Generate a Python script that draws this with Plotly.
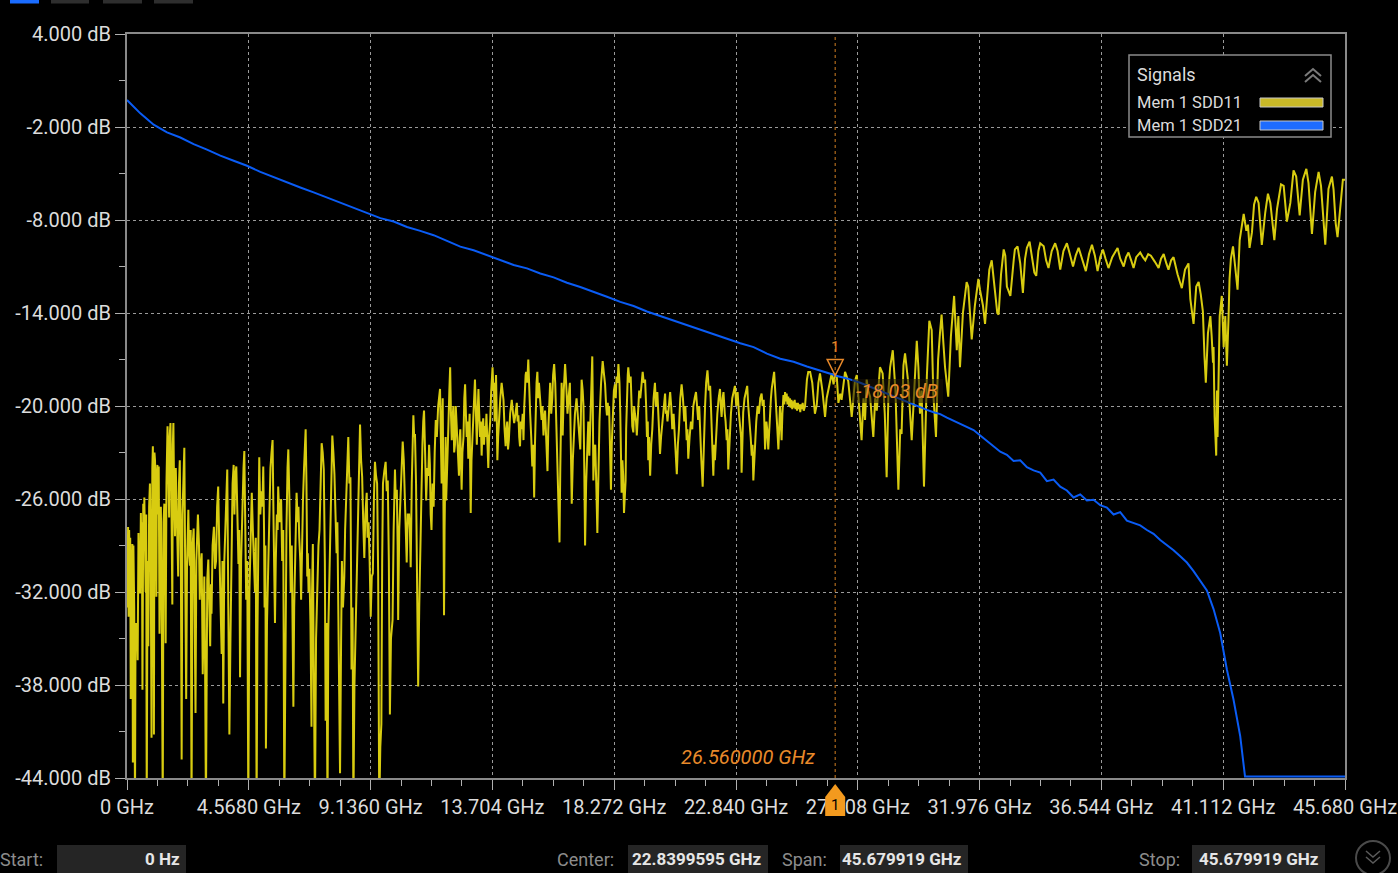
import plotly.graph_objects as go

# ---------------- data ----------------
# SDD21 (insertion loss), GHz / dB
sdd21_ghz = [0.0, 0.5, 1.0, 1.5, 2.0, 2.5, 3.0, 3.5, 4.0, 4.5, 5.0, 5.5, 6.0, 6.5, 7.0, 7.5,
             8.0, 8.5, 9.0, 9.5, 10.0, 10.5, 11.0, 11.5, 12.0, 12.5, 13.0, 13.5, 14.0, 14.5,
             15.0, 15.5, 16.0, 16.5, 17.0, 17.5, 18.0, 18.5, 19.0, 19.5, 20.0, 20.5, 21.0,
             21.5, 22.0, 22.5, 23.0, 23.5, 24.0, 24.5, 25.0, 25.5, 26.0, 26.5, 26.56, 27.0,
             27.5, 28.0, 28.5, 29.0, 29.5, 30.0, 30.25, 30.5, 30.75, 31.0, 31.25, 31.5, 31.75,
             32.0, 32.25, 32.5, 32.75, 33.0, 33.25, 33.5, 33.75, 34.0, 34.25, 34.5, 34.75,
             35.0, 35.25, 35.5, 35.75, 36.0, 36.25, 36.5, 36.75, 37.0, 37.25, 37.5, 37.75,
             38.0, 38.25, 38.5, 38.75, 39.0, 39.25, 39.5, 39.75, 40.0, 40.25, 40.5, 40.75,
             41.0, 41.25, 41.5, 41.75, 41.93, 45.68]
sdd21_db = [-0.26, -1.12, -1.85, -2.35, -2.68, -3.10, -3.46, -3.85, -4.18, -4.50, -4.90, -5.25,
            -5.58, -5.90, -6.22, -6.55, -6.90, -7.18, -7.55, -7.88, -8.10, -8.45, -8.70, -8.98,
            -9.35, -9.72, -9.95, -10.25, -10.55, -10.90, -11.12, -11.45, -11.70, -12.05, -12.32,
            -12.62, -12.95, -13.28, -13.55, -13.90, -14.20, -14.50, -14.80, -15.08, -15.35,
            -15.68, -15.95, -16.20, -16.62, -16.95, -17.15, -17.45, -17.70, -17.98, -18.03,
            -18.22, -18.50, -18.85, -19.20, -19.60, -19.95, -20.25, -20.40, -20.52, -20.75,
            -20.95, -21.10, -21.35, -21.55, -21.90, -22.25, -22.60, -22.95, -23.15, -23.55,
            -23.50, -23.95, -24.15, -24.30, -24.85, -24.75, -25.20, -25.45, -25.90, -25.70,
            -26.10, -26.05, -26.40, -26.55, -27.00, -26.85, -27.40, -27.55, -27.70, -28.00,
            -28.25, -28.65, -28.95, -29.30, -29.70, -30.10, -30.65, -31.25, -31.90, -33.10,
            -34.65, -37.00, -38.95, -41.30, -43.90, -43.90]

# SDD11 (return loss), 0 - 11.7 GHz
sdd11_a_ghz = [
    0.00, 0.02, 0.04, 0.06, 0.08, 0.10, 0.12, 0.14, 0.16, 0.18, 0.20, 0.22, 0.24, 0.27, 0.30,
    0.32, 0.35, 0.37, 0.40, 0.43, 0.45, 0.47, 0.49, 0.52, 0.54, 0.56, 0.58, 0.61, 0.63, 0.65,
    0.68, 0.70, 0.72, 0.74, 0.77, 0.80, 0.83, 0.86, 0.89, 0.92, 0.95, 0.97, 0.99, 1.01, 1.03,
    1.05, 1.08, 1.10, 1.12, 1.14, 1.17, 1.19, 1.22, 1.25, 1.27, 1.30, 1.34, 1.37, 1.40, 1.43,
    1.45, 1.48, 1.50, 1.52, 1.55, 1.58, 1.60, 1.63, 1.66, 1.70, 1.72, 1.74, 1.77, 1.80, 1.83,
    1.86, 1.89, 1.92, 1.95, 1.98, 2.02, 2.05, 2.08, 2.11, 2.15, 2.18, 2.22, 2.25, 2.28, 2.30,
    2.33, 2.36, 2.39, 2.42, 2.46, 2.50, 2.53, 2.57, 2.60, 2.63, 2.66, 2.70, 2.73, 2.76, 2.80,
    2.84, 2.87, 2.90, 2.93, 2.96, 2.98, 3.01, 3.05, 3.08, 3.12, 3.15, 3.17, 3.21, 3.26, 3.30,
    3.34, 3.38, 3.42, 3.46, 3.50, 3.55, 3.58, 3.61, 3.65, 3.70, 3.73, 3.76, 3.80, 3.84, 3.88,
    3.92, 3.96, 4.00, 4.03, 4.06, 4.10, 4.14, 4.18, 4.21, 4.24, 4.28, 4.33, 4.37, 4.40, 4.44,
    4.47, 4.51, 4.55, 4.59, 4.62, 4.65, 4.68, 4.72, 4.76, 4.80, 4.83, 4.86, 4.89, 4.92, 4.94,
    4.96, 5.00, 5.04, 5.08, 5.11, 5.14, 5.16, 5.19, 5.21, 5.25, 5.30, 5.34, 5.38, 5.42, 5.46,
    5.50, 5.55, 5.58, 5.62, 5.65, 5.67, 5.72, 5.78, 5.82, 5.86, 5.90, 5.94, 5.98, 6.02, 6.05,
    6.09, 6.14, 6.18, 6.21, 6.24, 6.27, 6.30, 6.33, 6.36, 6.40, 6.43, 6.46, 6.50, 6.53, 6.56,
    6.60, 6.64, 6.67, 6.70, 6.73, 6.76, 6.78, 6.81, 6.84, 6.88, 6.92, 6.94, 6.97, 7.00, 7.05,
    7.09, 7.14, 7.18, 7.22, 7.26, 7.30, 7.34, 7.38, 7.42, 7.45, 7.48, 7.52, 7.55, 7.58, 7.62,
    7.66, 7.70, 7.74, 7.78, 7.82, 7.86, 7.89, 7.92, 7.96, 7.99, 8.03, 8.06, 8.10, 8.15, 8.18,
    8.22, 8.26, 8.30, 8.34, 8.38, 8.40, 8.42, 8.46, 8.49, 8.53, 8.58, 8.61, 8.64, 8.67, 8.70,
    8.74, 8.78, 8.82, 8.86, 8.90, 8.94, 8.99, 9.02, 9.06, 9.10, 9.14, 9.18, 9.22, 9.26, 9.30,
    9.34, 9.38, 9.42, 9.46, 9.50, 9.54, 9.57, 9.60, 9.65, 9.70, 9.74, 9.78, 9.82, 9.86, 9.90,
    9.96, 10.00, 10.05, 10.08, 10.12, 10.15, 10.17, 10.21, 10.25, 10.30, 10.34, 10.38, 10.42,
    10.46, 10.49, 10.53, 10.58, 10.61, 10.64, 10.68, 10.71, 10.74, 10.77, 10.80, 10.84, 10.88,
    10.90, 10.92, 10.96, 11.00, 11.04, 11.08, 11.11, 11.14, 11.18, 11.22, 11.26, 11.30, 11.33,
    11.36, 11.39, 11.42, 11.46, 11.50, 11.54, 11.58, 11.62, 11.67]
sdd11_a_db = [
    -29.5, -33.0, -27.8, -33.6, -28.0, -30.5, -28.5, -38.9, -29.5, -32.0, -28.9, -43.0, -29.0,
    -33.0, -46.0, -34.0, -35.5, -34.0, -36.4, -28.2, -31.0, -29.0, -32.1, -26.9, -30.0, -27.5,
    -38.3, -26.3, -29.0, -25.9, -28.5, -32.0, -27.0, -46.0, -30.0, -35.5, -26.5, -25.0, -30.0,
    -41.4, -24.0, -22.6, -28.0, -41.2, -23.0, -23.5, -26.0, -32.3, -24.5, -23.8, -27.0, -23.9,
    -34.7, -27.5, -26.5, -31.5, -46.0, -27.5, -26.3, -30.0, -35.3, -25.0, -22.5, -21.3, -24.5,
    -27.2, -22.0, -21.1, -25.0, -32.8, -22.5, -21.1, -26.0, -28.4, -24.0, -26.7, -29.5, -31.0,
    -25.0, -23.5, -30.0, -42.8, -27.0, -25.5, -22.7, -30.0, -38.9, -30.5, -27.5, -26.7, -29.5,
    -30.3, -28.0, -46.0, -29.0, -27.9, -32.0, -39.8, -30.0, -28.5, -27.0, -29.0, -32.5, -30.4,
    -29.5, -37.3, -33.0, -31.0, -37.0, -46.0, -40.0, -31.2, -29.9, -32.0, -35.5, -31.5, -33.4,
    -29.0, -27.8, -30.5, -30.0, -26.5, -25.2, -29.0, -32.0, -36.0, -30.0, -39.2, -30.0, -27.5,
    -25.5, -24.1, -33.0, -41.2, -35.0, -30.0, -25.0, -23.8, -27.0, -24.5, -23.9, -27.0, -30.2,
    -28.0, -37.5, -30.0, -26.0, -24.0, -22.9, -27.0, -32.5, -30.0, -46.0, -32.0, -29.0, -26.5,
    -25.6, -28.0, -30.0, -32.0, -28.5, -46.0, -35.0, -28.5, -25.0, -23.3, -27.0, -25.5, -26.5,
    -23.9, -28.0, -33.0, -29.0, -42.1, -34.0, -30.0, -27.0, -24.0, -23.0, -22.2, -28.0, -34.0,
    -30.0, -27.0, -28.0, -25.2, -27.5, -26.0, -30.0, -28.0, -46.0, -33.0, -28.0, -24.0, -22.8,
    -26.0, -32.0, -29.0, -35.0, -39.4, -33.0, -30.0, -27.0, -25.6, -27.5, -26.5, -28.5, -30.0,
    -32.5, -28.0, -26.1, -24.0, -23.0, -21.5, -25.0, -31.0, -29.5, -32.0, -30.5, -34.0, -40.7,
    -32.0, -28.9, -36.0, -46.0, -35.0, -30.5, -29.0, -28.0, -24.0, -22.4, -23.0, -24.1, -30.0,
    -40.3, -34.0, -46.0, -34.5, -32.0, -30.0, -25.0, -21.9, -23.0, -24.4, -27.0, -29.5, -27.5,
    -34.0, -38.0, -43.7, -35.0, -30.0, -33.0, -31.0, -28.0, -25.5, -23.0, -22.0, -25.0, -24.6,
    -30.0, -37.0, -33.0, -46.0, -38.0, -33.8, -31.0, -30.0, -26.0, -23.0, -21.2, -23.5, -24.6,
    -27.5, -29.8, -27.0, -25.6, -28.5, -27.5, -30.0, -33.6, -31.0, -30.8, -26.0, -23.6, -24.5,
    -25.0, -31.0, -46.0, -42.0, -40.5, -30.0, -25.0, -24.2, -23.6, -25.5, -24.8, -30.0, -39.9,
    -35.0, -33.8, -28.0, -24.1, -26.0, -25.4, -29.0, -33.8, -28.0, -26.5, -24.0, -22.3, -23.5,
    -26.0, -28.0, -30.1, -27.0, -27.0, -28.0, -30.4, -25.0, -22.0, -20.6, -22.0, -21.8, -25.0,
    -29.9, -34.0, -38.1, -33.0, -29.5, -24.0, -22.5, -21.0, -20.3, -23.0, -26.1, -24.0, -24.5,
    -22.5, -23.8, -27.0, -28.0, -25.0, -26.5, -23.0, -20.9, -22.0, -20.0]

# SDD11, 11.7 - 24.4 GHz
sdd11_b_ghz = [
    11.74, 11.77, 11.80, 11.82, 11.84, 11.87, 11.89, 11.91, 11.93, 11.95, 11.97, 12.01, 12.05,
    12.09, 12.12, 12.15, 12.18, 12.21, 12.24, 12.27, 12.30, 12.33, 12.36, 12.40, 12.45, 12.48,
    12.50, 12.53, 12.55, 12.58, 12.62, 12.65, 12.68, 12.71, 12.74, 12.77, 12.80, 12.83, 12.85,
    12.87, 12.89, 12.92, 12.96, 13.00, 13.05, 13.08, 13.12, 13.15, 13.18, 13.21, 13.24, 13.27,
    13.30, 13.33, 13.36, 13.39, 13.42, 13.45, 13.48, 13.52, 13.55, 13.58, 13.62, 13.66, 13.71,
    13.74, 13.76, 13.79, 13.82, 13.84, 13.87, 13.89, 13.92, 13.96, 14.00, 14.05, 14.08, 14.12,
    14.16, 14.20, 14.23, 14.26, 14.29, 14.32, 14.37, 14.43, 14.48, 14.52, 14.57, 14.62, 14.65,
    14.68, 14.71, 14.74, 14.77, 14.80, 14.84, 14.87, 14.90, 14.92, 14.95, 14.97, 15.01, 15.05,
    15.08, 15.12, 15.16, 15.20, 15.24, 15.27, 15.30, 15.33, 15.36, 15.39, 15.42, 15.45, 15.50,
    15.55, 15.58, 15.62, 15.65, 15.68, 15.72, 15.77, 15.80, 15.84, 15.87, 15.91, 15.95, 15.98,
    16.02, 16.06, 16.10, 16.14, 16.18, 16.22, 16.25, 16.27, 16.30, 16.32, 16.34, 16.38, 16.43,
    16.47, 16.52, 16.56, 16.61, 16.64, 16.68, 16.72, 16.76, 16.80, 16.86, 16.90, 16.96, 17.00,
    17.03, 17.05, 17.09, 17.12, 17.15, 17.18, 17.22, 17.26, 17.30, 17.34, 17.37, 17.40, 17.43,
    17.45, 17.47, 17.49, 17.52, 17.56, 17.60, 17.64, 17.68, 17.72, 17.78, 17.84, 17.88, 17.93,
    17.97, 18.00, 18.03, 18.05, 18.08, 18.10, 18.13, 18.15, 18.18, 18.22, 18.26, 18.30, 18.33,
    18.36, 18.40, 18.43, 18.47, 18.50, 18.53, 18.55, 18.58, 18.61, 18.64, 18.67, 18.70, 18.72,
    18.75, 18.78, 18.80, 18.85, 18.89, 18.92, 18.95, 18.99, 19.02, 19.05, 19.09, 19.12, 19.17,
    19.21, 19.25, 19.30, 19.34, 19.38, 19.43, 19.47, 19.50, 19.53, 19.55, 19.58, 19.62, 19.66,
    19.70, 19.75, 19.80, 19.84, 19.89, 19.94, 19.99, 20.03, 20.08, 20.13, 20.18, 20.21, 20.24,
    20.27, 20.30, 20.33, 20.37, 20.41, 20.45, 20.50, 20.55, 20.58, 20.62, 20.66, 20.70, 20.75,
    20.80, 20.85, 20.90, 20.94, 20.99, 21.02, 21.05, 21.10, 21.15, 21.20, 21.24, 21.29, 21.34,
    21.38, 21.42, 21.46, 21.49, 21.54, 21.59, 21.63, 21.68, 21.72, 21.77, 21.82, 21.87, 21.90,
    21.93, 21.96, 21.99, 22.02, 22.05, 22.10, 22.14, 22.19, 22.24, 22.27, 22.30, 22.34, 22.37,
    22.42, 22.45, 22.49, 22.52, 22.55, 22.60, 22.65, 22.70, 22.75, 22.80, 22.85, 22.90, 22.95,
    23.00, 23.03, 23.05, 23.08, 23.11, 23.16, 23.21, 23.26, 23.30, 23.35, 23.39, 23.43, 23.46,
    23.49, 23.55, 23.60, 23.65, 23.70, 23.75, 23.80, 23.84, 23.88, 23.91, 23.93, 23.98, 24.01,
    24.05, 24.08, 24.12, 24.15, 24.18, 24.22, 24.27, 24.31, 24.35, 24.39, 24.43]
sdd11_b_db = [
    -18.9, -22.0, -25.0, -21.0, -19.5, -27.0, -33.5, -28.0, -24.0, -22.0, -26.1, -23.0, -21.5,
    -19.0, -17.5, -20.5, -22.2, -20.8, -20.0, -23.0, -22.5, -20.0, -21.3, -23.0, -24.5, -22.0,
    -21.5, -24.0, -25.4, -23.0, -22.0, -19.5, -18.6, -20.5, -22.0, -21.0, -23.4, -21.5, -20.5,
    -24.0, -26.9, -23.5, -21.5, -19.5, -18.3, -20.0, -22.5, -20.5, -18.9, -20.5, -22.0, -21.0,
    -23.2, -21.5, -20.8, -22.5, -21.3, -22.0, -20.5, -22.5, -24.0, -22.0, -21.0, -19.0, -17.5,
    -19.0, -18.5, -21.0, -19.5, -18.0, -21.0, -23.5, -22.0, -20.5, -19.5, -18.5, -19.0, -19.6,
    -21.5, -22.6, -21.5, -21.0, -22.8, -22.2, -20.5, -19.6, -20.5, -21.1, -20.5, -19.8, -21.0,
    -20.6, -22.0, -22.6, -21.0, -21.5, -20.5, -22.2, -20.0, -18.8, -18.0, -17.8, -18.5, -17.0,
    -19.0, -20.5, -22.0, -23.9, -22.5, -25.9, -22.5, -20.0, -18.5, -17.8, -19.5, -18.5, -19.5,
    -20.9, -20.0, -21.9, -20.8, -20.3, -22.0, -24.2, -21.5, -19.5, -18.5, -20.5, -19.5, -18.0,
    -17.3, -18.5, -20.8, -23.0, -26.0, -28.8, -24.0, -22.0, -18.5, -20.0, -21.9, -19.0, -17.3,
    -18.5, -20.5, -19.5, -18.5, -22.0, -26.3, -23.5, -22.0, -20.5, -19.5, -20.5, -21.5, -22.8,
    -20.0, -18.3, -19.0, -20.0, -24.0, -29.0, -25.0, -22.0, -21.0, -23.2, -21.5, -19.8, -18.0,
    -16.8, -20.0, -24.8, -23.0, -22.5, -25.0, -28.2, -24.5, -21.0, -18.5, -17.1, -17.8, -18.6,
    -20.0, -20.6, -19.8, -20.6, -20.0, -21.3, -23.0, -25.4, -22.5, -20.2, -19.0, -18.6, -19.5,
    -18.1, -18.5, -17.3, -18.5, -20.5, -23.0, -25.6, -23.5, -24.5, -26.9, -25.5, -24.8, -21.5,
    -19.0, -18.0, -17.5, -18.5, -18.1, -19.5, -21.3, -21.7, -20.0, -20.5, -21.0, -21.9, -20.5,
    -19.0, -19.5, -18.5, -17.8, -18.5, -18.3, -20.0, -22.0, -21.0, -23.5, -22.0, -24.5, -22.5,
    -21.5, -19.5, -18.5, -20.0, -19.1, -21.0, -23.1, -22.0, -21.0, -20.0, -19.2, -20.5, -20.3,
    -21.0, -20.4, -19.5, -19.1, -20.0, -21.5, -20.5, -22.2, -23.0, -24.4, -22.5, -21.5, -19.5,
    -18.6, -19.5, -21.0, -20.0, -22.2, -21.5, -23.4, -22.0, -21.0, -21.5, -20.0, -19.5, -19.1,
    -20.0, -20.9, -20.0, -21.9, -23.5, -25.2, -22.5, -20.0, -18.5, -17.7, -19.0, -18.7, -20.0,
    -22.2, -23.0, -24.5, -22.5, -23.5, -21.5, -20.5, -19.5, -18.9, -20.0, -20.7, -19.5, -19.1,
    -20.5, -21.0, -22.2, -21.5, -24.1, -22.0, -20.5, -19.5, -19.0, -18.7, -20.0, -19.1, -20.5,
    -21.5, -22.0, -24.3, -22.0, -20.4, -19.5, -19.0, -18.7, -20.0, -21.0, -22.0, -23.2, -22.5,
    -24.8, -22.5, -21.0, -20.0, -20.5, -19.5, -19.2, -20.0, -19.6, -21.5, -22.8, -21.0, -21.5,
    -22.8, -21.5, -20.4, -19.5, -18.9, -18.5, -17.8, -19.0, -20.0, -21.5, -22.8]

# SDD11, 24.4 - 32.7 GHz
sdd11_c_ghz = [
    24.49, 24.52, 24.55, 24.58, 24.62, 24.65, 24.68, 24.71, 24.74, 24.77, 24.80, 24.83, 24.86,
    24.89, 24.92, 24.95, 24.98, 25.01, 25.04, 25.07, 25.10, 25.13, 25.16, 25.19, 25.22, 25.25,
    25.28, 25.31, 25.34, 25.38, 25.43, 25.50, 25.55, 25.62, 25.70, 25.80, 25.87, 25.93, 25.99,
    26.08, 26.18, 26.24, 26.30, 26.43, 26.50, 26.55, 26.62, 26.68, 26.75, 26.80, 26.93, 27.05,
    27.18, 27.30, 27.37, 27.49, 27.55, 27.62, 27.68, 27.74, 27.80, 27.87, 27.93, 27.99, 28.06,
    28.12, 28.24, 28.34, 28.42, 28.49, 28.56, 28.62, 28.72, 28.82, 28.93, 29.00, 29.05, 29.12,
    29.18, 29.30, 29.43, 29.52, 29.62, 29.68, 29.74, 29.80, 29.89, 30.00, 30.09, 30.18, 30.24,
    30.34, 30.42, 30.49, 30.55, 30.62, 30.68, 30.80, 30.90, 31.02, 31.12, 31.18, 31.24, 31.35,
    31.49, 31.55, 31.68, 31.80, 31.93, 31.99, 32.10, 32.18, 32.34, 32.43, 32.55, 32.64]
sdd11_c_db = [
    -20.0, -21.0, -22.2, -20.5, -19.3, -19.9, -19.1, -19.7, -19.2, -19.9, -19.4, -20.0, -19.5,
    -20.1, -19.6, -20.2, -19.7, -20.1, -19.6, -20.2, -19.8, -20.3, -19.8, -20.2, -19.9, -20.4,
    -19.9, -20.2, -19.8, -20.3, -20.0, -18.3, -17.8, -17.8, -18.5, -20.5, -19.9, -18.5, -17.9,
    -19.0, -20.7, -19.5, -19.0, -17.9, -18.6, -18.0, -18.1, -19.8, -19.2, -19.6, -17.8, -18.4,
    -20.7, -18.4, -18.0, -20.9, -22.2, -19.5, -20.9, -18.3, -19.0, -19.4, -20.5, -22.0, -19.5,
    -20.3, -17.5, -17.9, -20.5, -24.6, -19.0, -17.5, -16.4, -19.0, -25.4, -21.5, -21.8, -17.4,
    -16.6, -18.5, -22.2, -19.0, -15.8, -17.5, -20.5, -19.0, -25.2, -18.0, -14.5, -15.1, -19.2,
    -22.0, -17.0, -15.3, -14.1, -16.0, -17.5, -19.4, -15.5, -12.9, -16.4, -14.2, -17.5, -14.0,
    -12.0, -12.3, -15.7, -13.5, -11.8, -12.5, -13.5, -14.7, -11.2, -10.6, -12.5, -14.0]

# SDD11, 32.7 - 40.2 GHz
sdd11_d_ghz = [
    32.69, 32.78, 32.88, 32.94, 33.00, 33.13, 33.26, 33.30, 33.40, 33.50, 33.60, 33.68, 33.75,
    33.85, 33.95, 34.03, 34.10, 34.18, 34.25, 34.38, 34.47, 34.56, 34.68, 34.81, 34.90, 35.00,
    35.12, 35.25, 35.36, 35.48, 35.58, 35.69, 35.80, 35.96, 36.08, 36.19, 36.30, 36.40, 36.50,
    36.60, 36.70, 36.81, 36.95, 37.15, 37.25, 37.38, 37.47, 37.56, 37.66, 37.75, 37.85, 38.00,
    38.10, 38.19, 38.30, 38.40, 38.55, 38.69, 38.78, 38.88, 38.98, 39.06, 39.16, 39.25, 39.40,
    39.56, 39.68, 39.81, 39.88, 40.00, 40.10, 40.19]
sdd11_d_db = [
    -14.1, -11.5, -9.9, -10.3, -12.3, -12.9, -10.5, -9.9, -9.7, -10.8, -12.7, -10.5, -9.8,
    -9.4, -10.5, -11.4, -11.6, -10.0, -9.5, -9.7, -10.6, -11.1, -10.0, -9.5, -10.0, -11.2,
    -10.0, -9.5, -10.2, -11.0, -10.3, -9.8, -10.4, -11.3, -10.2, -9.6, -10.3, -11.3, -10.4,
    -9.9, -10.5, -11.1, -10.4, -9.8, -10.5, -11.0, -10.4, -10.1, -10.6, -11.1, -10.4, -10.1,
    -10.4, -10.6, -10.2, -10.3, -10.7, -11.1, -10.5, -10.2, -10.8, -11.2, -10.6, -10.4, -11.5,
    -12.4, -11.2, -10.8, -13.1, -14.7, -12.3, -12.0]

# SDD11, 40.2 - 45.68 GHz
sdd11_e_ghz = [
    40.27, 40.35, 40.41, 40.46, 40.54, 40.63, 40.68, 40.73, 40.75, 40.79, 40.85, 40.88, 40.90,
    40.94, 40.98, 41.06, 41.13, 41.19, 41.25, 41.31, 41.35, 41.40, 41.48, 41.56, 41.65, 41.73,
    41.81, 41.88, 41.98, 42.04, 42.10, 42.19, 42.27, 42.35, 42.44, 42.50, 42.56, 42.69, 42.79,
    42.88, 42.96, 43.03, 43.13, 43.28, 43.38, 43.50, 43.63, 43.75, 43.85, 43.92, 43.98, 44.10,
    44.23, 44.31, 44.38, 44.44, 44.56, 44.69, 44.78, 44.86, 44.94, 45.06, 45.19, 45.25, 45.33,
    45.40, 45.50, 45.60, 45.68]
sdd11_e_db = [
    -12.8, -13.9, -16.8, -18.5, -15.3, -14.2, -15.5, -17.2, -16.2, -20.7, -23.2, -19.0, -22.0,
    -16.5, -14.2, -12.9, -16.2, -14.2, -17.4, -14.4, -11.8, -10.5, -9.7, -11.0, -12.5, -9.3,
    -8.2, -7.6, -8.7, -8.3, -9.8, -8.8, -7.0, -6.5, -6.9, -8.2, -9.6, -7.5, -6.3,
    -6.9, -8.3, -9.3, -7.3, -5.7, -5.8, -8.1, -6.9, -4.8, -5.2, -6.5, -7.7, -5.4,
    -4.7, -5.6, -7.5, -8.9, -6.2, -4.9, -5.8, -8.0, -9.6, -6.0, -5.2, -6.0, -8.2,
    -9.1, -7.3, -5.4, -5.4]

# axis ticks
x_tick_ghz = [0.0, 4.568, 9.136, 13.704, 18.272, 22.840, 27.408, 31.976, 36.544, 41.112, 45.680]
x_tick_text = ["0 GHz", "4.5680 GHz", "9.1360 GHz", "13.704 GHz", "18.272 GHz", "22.840 GHz",
               "27.408 GHz", "31.976 GHz", "36.544 GHz", "41.112 GHz", "45.680 GHz"]
y_tick_db = [4, -2, -8, -14, -20, -26, -32, -38, -44]
y_tick_text = ["4.000 dB", "-2.000 dB", "-8.000 dB", "-14.000 dB", "-20.000 dB",
               "-26.000 dB", "-32.000 dB", "-38.000 dB", "-44.000 dB"]

# marker 1
marker_ghz = 26.56
marker_db = -18.03

# sweep settings shown in the footer
sweep_start = "0 Hz"
sweep_center = "22.8399595 GHz"
sweep_span = "45.679919 GHz"
sweep_stop = "45.679919 GHz"

# ---------------- assemble SDD11 ----------------
segments = [(sdd11_a_ghz, sdd11_a_db), (sdd11_b_ghz, sdd11_b_db), (sdd11_c_ghz, sdd11_c_db),
            (sdd11_d_ghz, sdd11_d_db), (sdd11_e_ghz, sdd11_e_db)]
sdd11_ghz, sdd11_db = [], []
for g, d in segments:
    assert len(g) == len(d), (len(g), len(d))
    sdd11_ghz += g
    sdd11_db += d
assert len(sdd21_ghz) == len(sdd21_db)

# ---------------- styling ----------------
W, H = 1398, 873
L, R, T, B = 127, 1345, 34, 778          # plot area in page pixels
YELLOW = "#d8cc10"
BLUE = "#0a5cf5"
ORANGE = "#e8892a"
TXT = "#dcdcdc"
FONT = "Roboto"


def px(x):
    return (x - L) / (R - L)


def py(y):
    return (B - y) / (B - T)


def path(points, close=False):
    s = "M" + " L".join(f"{px(a):.5f},{py(b):.5f}" for a, b in points)
    return s + (" Z" if close else "")


fig = go.Figure()
fig.add_trace(go.Scatter(x=sdd11_ghz, y=sdd11_db, mode="lines", name="Mem 1 SDD11",
                         line=dict(color=YELLOW, width=2), hoverinfo="skip"))
fig.add_trace(go.Scatter(x=sdd21_ghz, y=sdd21_db, mode="lines", name="Mem 1 SDD21",
                         line=dict(color=BLUE, width=2), hoverinfo="skip"))

axis_common = dict(showline=True, linecolor="#8a8a8a", linewidth=2, mirror=True,
                   showgrid=True, gridcolor="#9a9a9a", griddash="dot", gridwidth=1,
                   zeroline=False, ticks="outside", ticklen=10, tickwidth=1,
                   tickcolor="#b0b0b0", tickfont=dict(family=FONT, size=20, color=TXT),
                   automargin=False, fixedrange=True)

fig.update_layout(
    width=W, height=H,
    margin=dict(l=L, r=W - R, t=T, b=H - B),
    paper_bgcolor="black", plot_bgcolor="black",
    showlegend=False,
    xaxis=dict(range=[0, 45.68], tickmode="array", tickvals=x_tick_ghz, ticktext=x_tick_text,
               minor=dict(tickmode="linear", tick0=0, dtick=1.142, ticks="outside", ticklen=6,
                          tickcolor="#b0b0b0", showgrid=False),
               **axis_common),
    yaxis=dict(range=[-44, 4], tickmode="array", tickvals=y_tick_db, ticktext=y_tick_text,
               minor=dict(tickmode="linear", tick0=-44, dtick=3, ticks="outside", ticklen=6,
                          tickcolor="#b0b0b0", showgrid=False),
               **axis_common),
)

shapes = []
annotations = []

# marker 1: dotted cursor, triangle, readouts
shapes.append(dict(type="line", xref="x", yref="paper", x0=marker_ghz, x1=marker_ghz, y0=0, y1=1,
                   line=dict(color="#b06a1c", width=1.2, dash="dot"), layer="above"))
half_w = 8 / ((R - L) / 45.68)
tri_h = 16 / ((B - T) / 48)
shapes.append(dict(type="path", xref="x", yref="y",
                   path=f"M{marker_ghz - half_w},{marker_db + tri_h} L{marker_ghz + half_w},{marker_db + tri_h} "
                        f"L{marker_ghz},{marker_db} Z",
                   line=dict(color=ORANGE, width=1.5), fillcolor="rgba(0,0,0,0)", layer="above"))
annotations.append(dict(x=marker_ghz, y=py(347), xref="x", yref="paper", text="1", showarrow=False,
                        font=dict(family=FONT, size=15, color=ORANGE), xanchor="center", yanchor="middle"))
shapes.append(dict(type="rect", xref="paper", yref="paper", x0=px(852), x1=px(943), y0=py(403), y1=py(379),
                   fillcolor="rgba(25,18,5,0.55)", line=dict(width=0), layer="above"))
annotations.append(dict(x=px(854), y=py(391), xref="paper", yref="paper",
                        text=f"<i>{marker_db:.2f} dB</i>", showarrow=False,
                        font=dict(family=FONT, size=20, color=ORANGE), xanchor="left", yanchor="middle"))
annotations.append(dict(x=px(748), y=py(757), xref="paper", yref="paper",
                        text=f"<i>{marker_ghz:.6f} GHz</i>", showarrow=False,
                        font=dict(family=FONT, size=20, color=ORANGE), xanchor="center", yanchor="middle"))
# marker flag on the frequency axis
mx = L + marker_ghz * (R - L) / 45.68
shapes.append(dict(type="path", xref="paper", yref="paper",
                   path=path([(mx, 784), (mx + 10, 797), (mx + 10, 816), (mx - 10, 816), (mx - 10, 797)], True),
                   fillcolor="#f39a1e", line=dict(width=0), layer="above"))
annotations.append(dict(x=px(mx), y=py(805), xref="paper", yref="paper", text="1", showarrow=False,
                        font=dict(family=FONT, size=15, color="black"), xanchor="center", yanchor="middle"))

# signals legend
shapes.append(dict(type="rect", xref="paper", yref="paper", x0=px(1129), x1=px(1331), y0=py(137), y1=py(55),
                   fillcolor="black", line=dict(color="#8a8a8a", width=1.5), layer="above"))
annotations.append(dict(x=px(1135), y=py(75), xref="paper", yref="paper", text="Signals", showarrow=False,
                        font=dict(family=FONT, size=18, color=TXT), xanchor="left", yanchor="middle"))
for yy, name, col in [(102, "Mem 1 SDD11", "#c9b928"), (125, "Mem 1 SDD21", "#1e6cff")]:
    annotations.append(dict(x=px(1135), y=py(yy), xref="paper", yref="paper", text=name, showarrow=False,
                            font=dict(family=FONT, size=16.5, color=TXT), xanchor="left", yanchor="middle"))
    shapes.append(dict(type="rect", xref="paper", yref="paper", x0=px(1260), x1=px(1323),
                       y0=py(yy + 5), y1=py(yy - 4), fillcolor=col,
                       line=dict(color="#c8c8c8", width=1), layer="above"))
for dy in (0, 6):
    shapes.append(dict(type="path", xref="paper", yref="paper",
                       path=path([(1305, 76 + dy), (1313, 69 + dy), (1321, 76 + dy)]),
                       line=dict(color="#7a7a7a", width=2), layer="above"))

# footer: sweep settings
footer_y = 859
boxes = [(57, 186, "Start:", 45, sweep_start),
         (628, 768, "Center:", 616, sweep_center),
         (840, 968, "Span:", 829, sweep_span),
         (1192, 1325, "Stop:", 1182, sweep_stop)]
for x0, x1, lab, lab_x, val in boxes:
    shapes.append(dict(type="rect", xref="paper", yref="paper", x0=px(x0), x1=px(x1),
                       y0=py(875), y1=py(845), fillcolor="#252525", line=dict(width=0), layer="above"))
    annotations.append(dict(x=px(lab_x), y=py(footer_y), xref="paper", yref="paper", text=lab,
                            showarrow=False, font=dict(family=FONT, size=18, color="#8c8c8c"),
                            xanchor="right", yanchor="middle"))
    annotations.append(dict(x=px(x1 - 4), y=py(footer_y), xref="paper", yref="paper", text=f"<b>{val}</b>",
                            showarrow=False, font=dict(family=FONT, size=17, color="#e6e6e6"),
                            xanchor="right", yanchor="middle"))
shapes.append(dict(type="circle", xref="paper", yref="paper", x0=px(1356), x1=px(1390), y0=py(875), y1=py(841),
                   line=dict(color="#4a4a4a", width=2), layer="above"))
for dy in (0, 6):
    shapes.append(dict(type="path", xref="paper", yref="paper",
                       path=path([(1366, 851 + dy), (1373, 857 + dy), (1380, 851 + dy)]),
                       line=dict(color="#5a5a5a", width=1.5), layer="above"))

# tab strip along the top edge
for x0, x1, col in [(10, 39, "#1a6cff"), (51, 89, "#2e2e2e"), (103, 142, "#2e2e2e"), (154, 193, "#2e2e2e")]:
    shapes.append(dict(type="rect", xref="paper", yref="paper", x0=px(x0), x1=px(x1), y0=py(3.5), y1=py(0),
                       fillcolor=col, line=dict(width=0), layer="above"))

fig.update_layout(shapes=shapes, annotations=annotations)
fig.write_html("out.html", config={"displayModeBar": False, "staticPlot": True})
